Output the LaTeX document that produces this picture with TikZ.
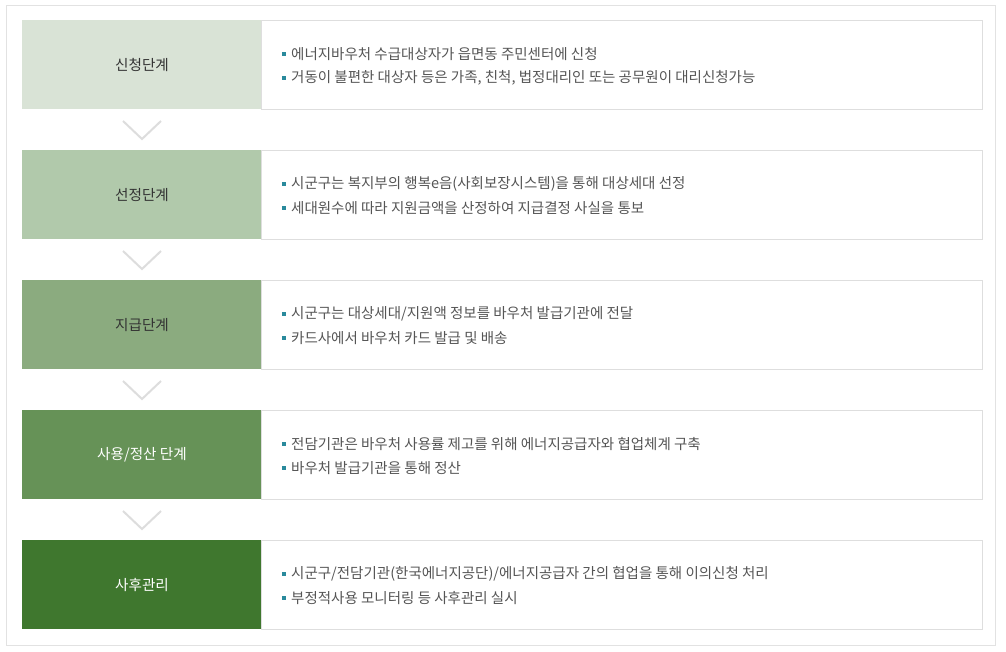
\documentclass[tikz,border=0pt]{standalone}
\usepackage{fontspec}
\setmainfont{Noto Sans CJK KR}
\definecolor{c1}{HTML}{D9E3D6}
\definecolor{c2}{HTML}{B1C9AB}
\definecolor{c3}{HTML}{8BAB7F}
\definecolor{c4}{HTML}{669257}
\definecolor{c5}{HTML}{3F772E}
\definecolor{txtgray}{HTML}{555555}
\definecolor{lbldark}{HTML}{333333}
\definecolor{bulcol}{HTML}{2A8A9C}
\definecolor{chevgray}{HTML}{DDDDDD}
\definecolor{boxgray}{HTML}{DEDEDE}
\definecolor{outer}{HTML}{E2E2E2}
\newcommand{\stepblock}[7]{%
  % #1 index, #2 top y, #3 fill, #4 label colour, #5 label, #6 line a, #7 line b
  \draw[rbox] (261,#2+0.5) rectangle (982.5,#2+89);
  \fill[#3] (22,#2) rectangle (261,#2+89);
  \node[lbl, text=#4] (s#1) at (142,#2+45) {#5};
  \node[bul] (b#1a) at (284,#2+34) {};
  \node[item] (t#1a) at (291,#2+34) {#6};
  \node[bul] (b#1b) at (284,#2+58) {};
  \node[item] (t#1b) at (291,#2+58) {#7};
}
\begin{document}
\begin{tikzpicture}[x=1pt,y=-1pt,
  every node/.style={inner sep=0pt},
  lbl/.style={font=\fontsize{14.6}{16}\selectfont},
  item/.style={font=\fontsize{14.5}{16}\selectfont, text=txtgray, anchor=west},
  bul/.style={fill=bulcol, minimum size=4.5pt, inner sep=0pt},
  chev/.style={draw=chevgray, line width=2pt},
  rbox/.style={draw=boxgray, line width=1pt, fill=white}
]
\useasboundingbox (0,0) rectangle (1006,651);
\fill[white] (0,0) rectangle (1006,651);
\draw[outer, line width=1pt] (6.5,5) rectangle (995.5,645.5);

\stepblock{0}{20}{c1}{lbldark}{신청단계}{에너지바우처 수급대상자가 읍면동 주민센터에 신청}{거동이 불편한 대상자 등은 가족, 친척, 법정대리인 또는 공무원이 대리신청가능}
\stepblock{1}{150}{c2}{lbldark}{선정단계}{시군구는 복지부의 행복e음(사회보장시스템)을 통해 대상세대 선정}{세대원수에 따라 지원금액을 산정하여 지급결정 사실을 통보}
\stepblock{2}{280}{c3}{lbldark}{지급단계}{시군구는 대상세대/지원액 정보를 바우처 발급기관에 전달}{카드사에서 바우처 카드 발급 및 배송}
\stepblock{3}{410}{c4}{white}{사용/정산 단계}{전담기관은 바우처 사용률 제고를 위해 에너지공급자와 협업체계 구축}{바우처 발급기관을 통해 정산}
\stepblock{4}{540}{c5}{white}{사후관리}{시군구/전담기관(한국에너지공단)/에너지공급자 간의 협업을 통해 이의신청 처리}{부정적사용 모니터링 등 사후관리 실시}

% chevrons
\foreach \i in {0,1,2,3}{
  \pgfmathsetmacro{\yy}{20+130*\i+101}
  \draw[chev] (123,\yy) -- (142,\yy+18) -- (161,\yy);
}
\end{tikzpicture}
\end{document}
